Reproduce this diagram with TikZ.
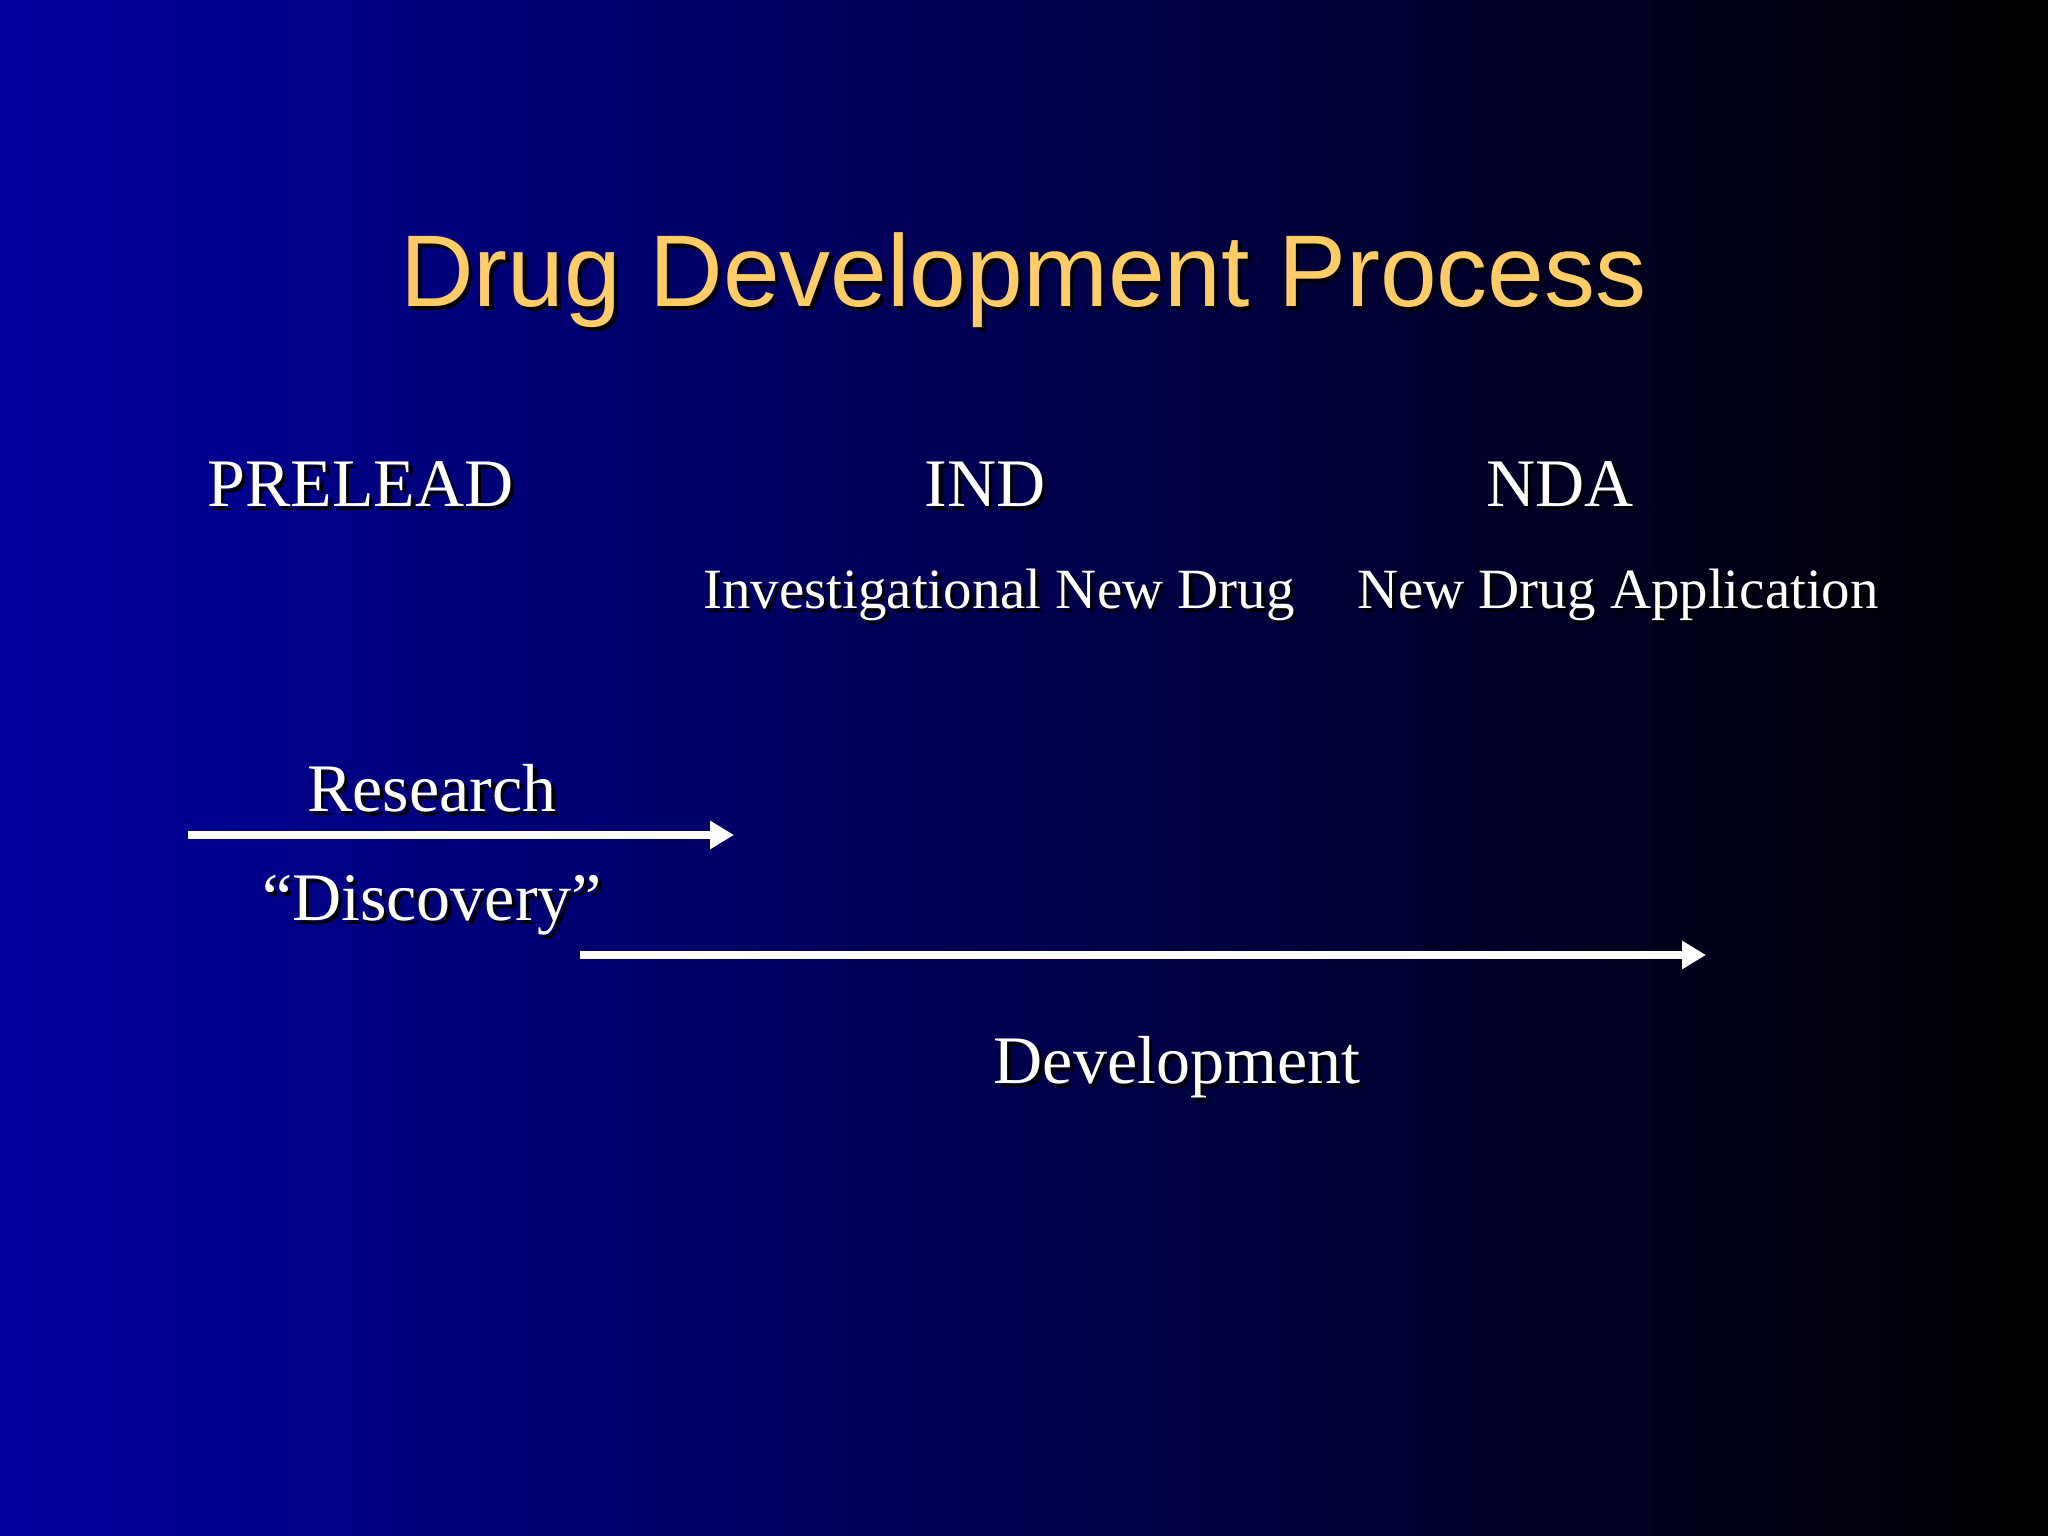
\documentclass[tikz,border=0pt]{standalone}
\usepackage{fontspec}
\setmainfont{Liberation Serif}
\newfontfamily\titlefont{Liberation Sans}
\usetikzlibrary{arrows.meta}
\definecolor{bgblue}{RGB}{0,0,158}
\definecolor{titlegold}{RGB}{255,204,102}
\newcommand\mysh[1]{\rlap{\hspace{0.035cm}\raisebox{-0.035cm}{\color{black}#1}}#1}
\tikzset{
  lbl/.style={anchor=base, inner sep=0pt, text=white, font=\fontsize{19.35pt}{22pt}\selectfont},
  sublbl/.style={anchor=base, inner sep=0pt, text=white, font=\fontsize{16.2pt}{19pt}\selectfont},
  ttl/.style={anchor=base, inner sep=0pt, text=titlegold, font=\titlefont\fontsize{29pt}{33pt}\selectfont},
  arr/.style={draw=white, line width=2.3pt, -{Triangle[length=0.24cm,width=0.27cm]}}
}
\begin{document}
\begin{tikzpicture}
\useasboundingbox (0,0) rectangle (20.48,15.36);
\shade[left color=bgblue, right color=black] (0,0) rectangle (20.48,15.36);
\node[ttl] (title) at (10.235,12.29) {\mysh{Drug Development Process}};
\node[lbl] (prelead) at (3.605,10.29) {\mysh{PRELEAD}};
\node[lbl] (ind) at (9.85,10.29) {\mysh{IND}};
\node[lbl] (nda) at (15.60,10.29) {\mysh{NDA}};
\node[sublbl] (indl) at (9.99,9.27) {\mysh{Investigational New Drug}};
\node[sublbl] (ndal) at (16.18,9.27) {\mysh{New Drug Application}};
\node[lbl] (research) at (4.32,7.24) {\mysh{Research}};
\node[lbl] (discovery) at (4.32,6.15) {\mysh{“Discovery”}};
\node[lbl] (development) at (11.77,4.52) {\mysh{Development}};
\coordinate (r1) at (1.88,7.01);
\coordinate (r2) at (7.34,7.01);
\coordinate (d1) at (5.80,5.81);
\coordinate (d2) at (17.06,5.81);
\draw[arr] (r1) -- (r2);
\draw[arr] (d1) -- (d2);
\end{tikzpicture}
\end{document}
